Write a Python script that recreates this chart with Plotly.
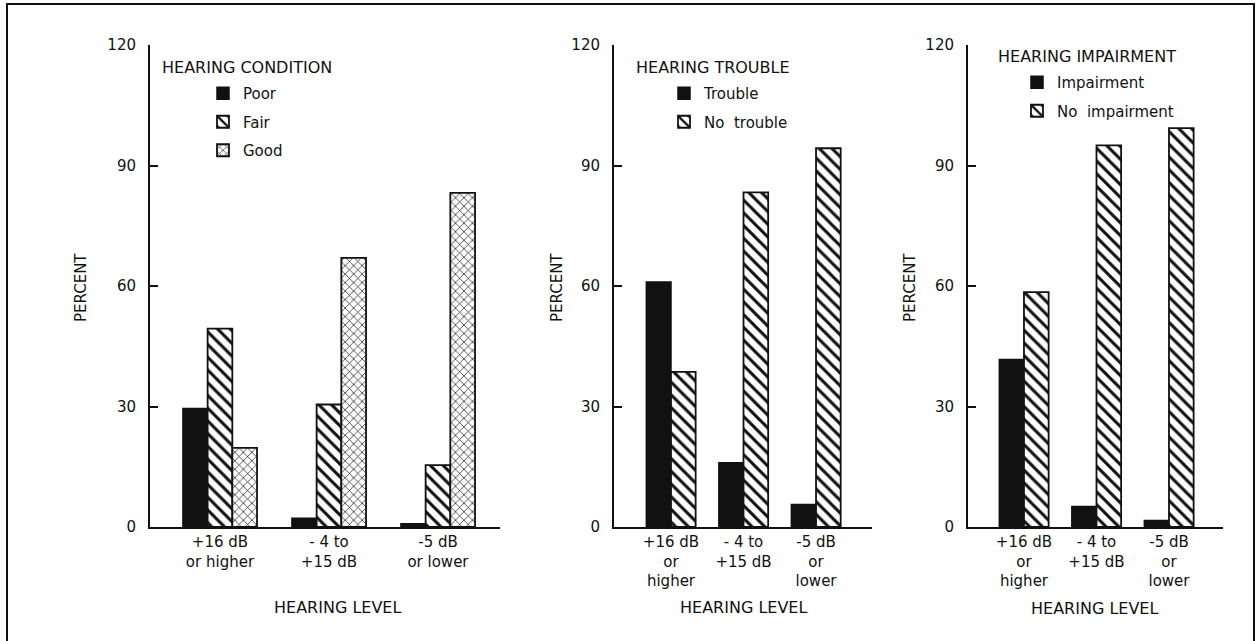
import plotly.graph_objects as go

W, H = 1258, 641

# ---------------- data ----------------
levels_two_line = ["+16 dB<br>or higher", "- 4 to<br>+15 dB", "-5 dB<br>or lower"]
levels_three_line = ["+16 dB<br>or<br>higher", "- 4 to<br>+15 dB", "-5 dB<br>or<br>lower"]

condition_poor = [29.5, 2.2, 0.8]
condition_fair = [49.4, 30.5, 15.4]
condition_good = [19.7, 67.0, 83.2]

trouble_yes = [61.0, 16.0, 5.6]
trouble_no = [38.6, 83.3, 94.3]

impair_yes = [41.7, 5.1, 1.6]
impair_no = [58.5, 95.0, 99.3]

y_ticks = [0, 30, 60, 90, 120]

# ---------------- helpers ----------------
FONT = "DejaVu Sans"


def px_x(p):
    return p / W


def px_y(p):
    return 1 - p / H


BLACK = "#111111"


def solid():
    return dict(color=BLACK, line=dict(color=BLACK, width=1.5))


def hatch():
    return dict(color="white",
                line=dict(color=BLACK, width=1.8),
                pattern=dict(shape="\\", size=9, solidity=0.33,
                             fgcolor=BLACK, bgcolor="white", fillmode="replace"))


def cross():
    return dict(color="white",
                line=dict(color=BLACK, width=1.8),
                pattern=dict(shape="x", size=6, solidity=0.22,
                             fgcolor=BLACK, bgcolor="white", fillmode="replace"))


fig = go.Figure()

# panel 1
for name, vals, mk in [("Poor", condition_poor, solid()),
                       ("Fair", condition_fair, hatch()),
                       ("Good", condition_good, cross())]:
    fig.add_trace(go.Bar(x=levels_two_line, y=vals, name=name, marker=mk,
                         xaxis="x", yaxis="y", legend="legend",
                         legendgroup="p1" + name, hoverinfo="skip"))

# panel 2
for name, vals, mk in [("Trouble", trouble_yes, solid()),
                       ("No  trouble", trouble_no, hatch())]:
    fig.add_trace(go.Bar(x=levels_three_line, y=vals, name=name, marker=mk,
                         xaxis="x2", yaxis="y2", legend="legend2",
                         legendgroup="p2" + name, hoverinfo="skip"))

# panel 3
for name, vals, mk in [("Impairment", impair_yes, solid()),
                       ("No  impairment", impair_no, hatch())]:
    fig.add_trace(go.Bar(x=levels_three_line, y=vals, name=name, marker=mk,
                         xaxis="x3", yaxis="y3", legend="legend3",
                         legendgroup="p3" + name, hoverinfo="skip"))

tickfont = dict(family=FONT, size=15, color=BLACK)
xtickfont = dict(family=FONT, size=15, color=BLACK)

ydom = [px_y(527), px_y(45)]


def yaxis_cfg(anchor):
    return dict(domain=ydom, range=[0, 120], tickvals=y_ticks,
                showline=True, linecolor=BLACK, linewidth=2,
                ticks="inside", ticklen=8, tickwidth=2, tickcolor=BLACK,
                showgrid=False, zeroline=False, tickfont=tickfont,
                ticklabelstandoff=9, anchor=anchor, fixedrange=True,
                automargin=False)


def xaxis_cfg(x0, x1, r0, r1, anchor):
    return dict(domain=[px_x(x0), px_x(x1)], range=[r0, r1],
                showline=True, linecolor=BLACK, linewidth=2,
                ticks="", showgrid=False, zeroline=False,
                tickfont=xtickfont, anchor=anchor, fixedrange=True,
                tickangle=0, automargin=False)


layout = dict(
    width=W, height=H,
    margin=dict(l=0, r=0, t=0, b=0, pad=0, autoexpand=False),
    paper_bgcolor="white", plot_bgcolor="white",
    barmode="group", bargap=0.32, bargroupgap=0,
    font=dict(family=FONT, size=15, color=BLACK),
    xaxis=xaxis_cfg(150, 500, -0.642, 2.569, "y"),
    yaxis=yaxis_cfg("x"),
    xaxis2=xaxis_cfg(614, 872, -0.786, 2.772, "y2"),
    yaxis2=yaxis_cfg("x2"),
    xaxis3=xaxis_cfg(968, 1223, -0.772, 2.745, "y3"),
    yaxis3=yaxis_cfg("x3"),
)

leg_common = dict(xref="paper", yref="paper", xanchor="left", yanchor="top",
                  bgcolor="rgba(0,0,0,0)", borderwidth=0,
                  font=dict(family=FONT, size=15, color=BLACK),
                  tracegroupgap=6, itemclick=False, itemdoubleclick=False)
layout["legend"] = dict(leg_common, x=px_x(203), y=px_y(77))
layout["legend2"] = dict(leg_common, x=px_x(664), y=px_y(77))
layout["legend3"] = dict(leg_common, x=px_x(1017), y=px_y(66))

fig.update_layout(**layout)

# annotations: legend titles, axis titles
ann = []


def add_text(text, x, y, xanchor="center", angle=0, size=15):
    ann.append(dict(text=text, x=px_x(x), y=px_y(y), xref="paper", yref="paper",
                    xanchor=xanchor, yanchor="middle", showarrow=False,
                    textangle=angle, font=dict(family=FONT, size=size, color=BLACK)))


add_text("HEARING CONDITION", 160, 67, xanchor="left", size=16)
add_text("HEARING TROUBLE", 634, 67, xanchor="left", size=16)
add_text("HEARING IMPAIRMENT", 996, 56, xanchor="left", size=16)

for xc in (81, 557, 910):
    add_text("PERCENT", xc, 288, angle=-90)

add_text("HEARING LEVEL", 337, 607, size=16)
add_text("HEARING LEVEL", 743, 607, size=16)
add_text("HEARING LEVEL", 1094, 608, size=16)

fig.update_layout(annotations=ann)

# frame around whole figure
fig.add_shape(type="rect", xref="paper", yref="paper",
              x0=px_x(7), x1=px_x(1254), y0=px_y(660), y1=px_y(4),
              line=dict(color=BLACK, width=2), fillcolor="rgba(0,0,0,0)")

fig.write_html(
    "out.html",
    config={"displayModeBar": False},
    post_script="document.body.style.margin='0';document.body.style.padding='0';"
                "document.documentElement.style.overflow='hidden';"
                "var gd=document.getElementById('{plot_id}');"
                "gd.style.position='absolute';gd.style.top='0px';gd.style.left='0px';",
)
